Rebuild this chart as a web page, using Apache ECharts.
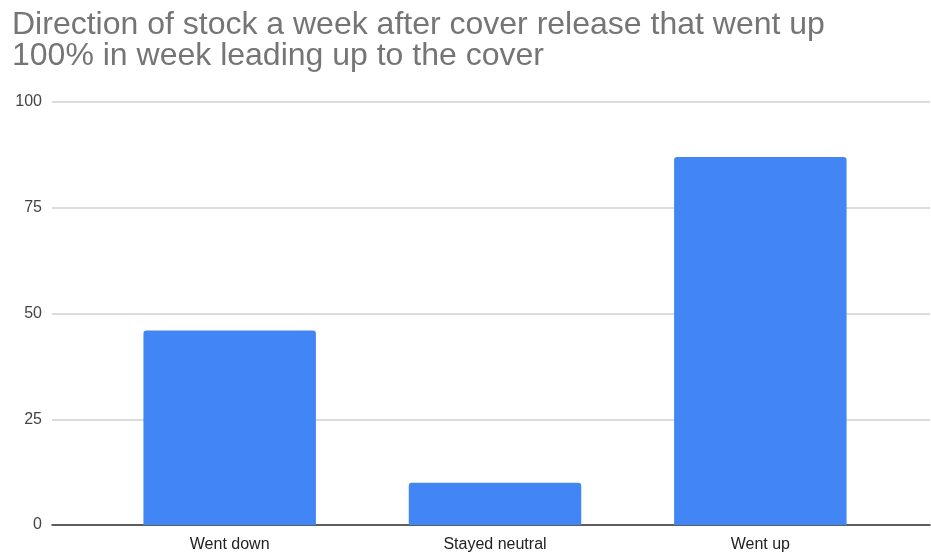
<!DOCTYPE html>
<html>
<head>
<meta charset="utf-8">
<script src="https://cdn.jsdelivr.net/npm/echarts@6/dist/echarts.min.js"></script>
<style>
  html, body { margin: 0; padding: 0; background: #fff; }
  #chart { width: 931px; height: 560px; }
</style>
</head>
<body>
<div id="chart"></div>
<script>
const categories = ['Went down', 'Stayed neutral', 'Went up']
const counts = [46, 10, 87]
const yTicks = [0, 25, 50, 75, 100]

let chart = echarts.init(document.getElementById('chart'))

option = {
  animation: false,
  title: {
    text: 'Direction of stock a week after cover release that went up\n100% in week leading up to the cover',
    left: 7,
    top: 5,
    textStyle: {
      fontFamily: 'Liberation Sans',
      fontSize: 32,
      fontWeight: 'normal',
      color: '#757575',
      lineHeight: 31
    }
  },
  grid: [
    // wide grid: gridlines, y labels and base line
    { left: 52, right: 1, top: 102, bottom: 35 },
    // narrower grid for the bars themselves
    { left: 97, right: 38, top: 102, bottom: 35 }
  ],
  xAxis: [
    {
      gridIndex: 0,
      type: 'category',
      data: [''],
      axisLine: { show: true, lineStyle: { color: '#333', width: 1.5 } },
      axisTick: { show: false },
      axisLabel: { show: false }
    },
    {
      gridIndex: 1,
      type: 'category',
      data: categories,
      axisLine: { show: false },
      axisTick: { show: false },
      axisLabel: {
        margin: 12,
        fontFamily: 'Liberation Sans',
        fontSize: 16,
        color: '#222'
      }
    }
  ],
  yAxis: [
    {
      gridIndex: 0,
      type: 'value',
      min: yTicks[0],
      max: yTicks[yTicks.length - 1],
      interval: 25,
      axisLine: { show: false },
      axisTick: { show: false },
      axisLabel: {
        margin: 10,
        fontFamily: 'Liberation Sans',
        fontSize: 16,
        color: '#444'
      },
      splitLine: { lineStyle: { color: '#d0d0d0', width: 1.5 } }
    },
    {
      gridIndex: 1,
      type: 'value',
      min: yTicks[0],
      max: yTicks[yTicks.length - 1],
      interval: 25,
      show: false,
      splitLine: { show: false }
    }
  ],
  series: [
    {
      type: 'bar',
      xAxisIndex: 1,
      yAxisIndex: 1,
      data: counts,
      barCategoryGap: '35%',
      itemStyle: { color: '#4285F4', borderRadius: [3, 3, 0, 0] }
    }
  ]
}
chart.setOption(option)
</script>
</body>
</html>
